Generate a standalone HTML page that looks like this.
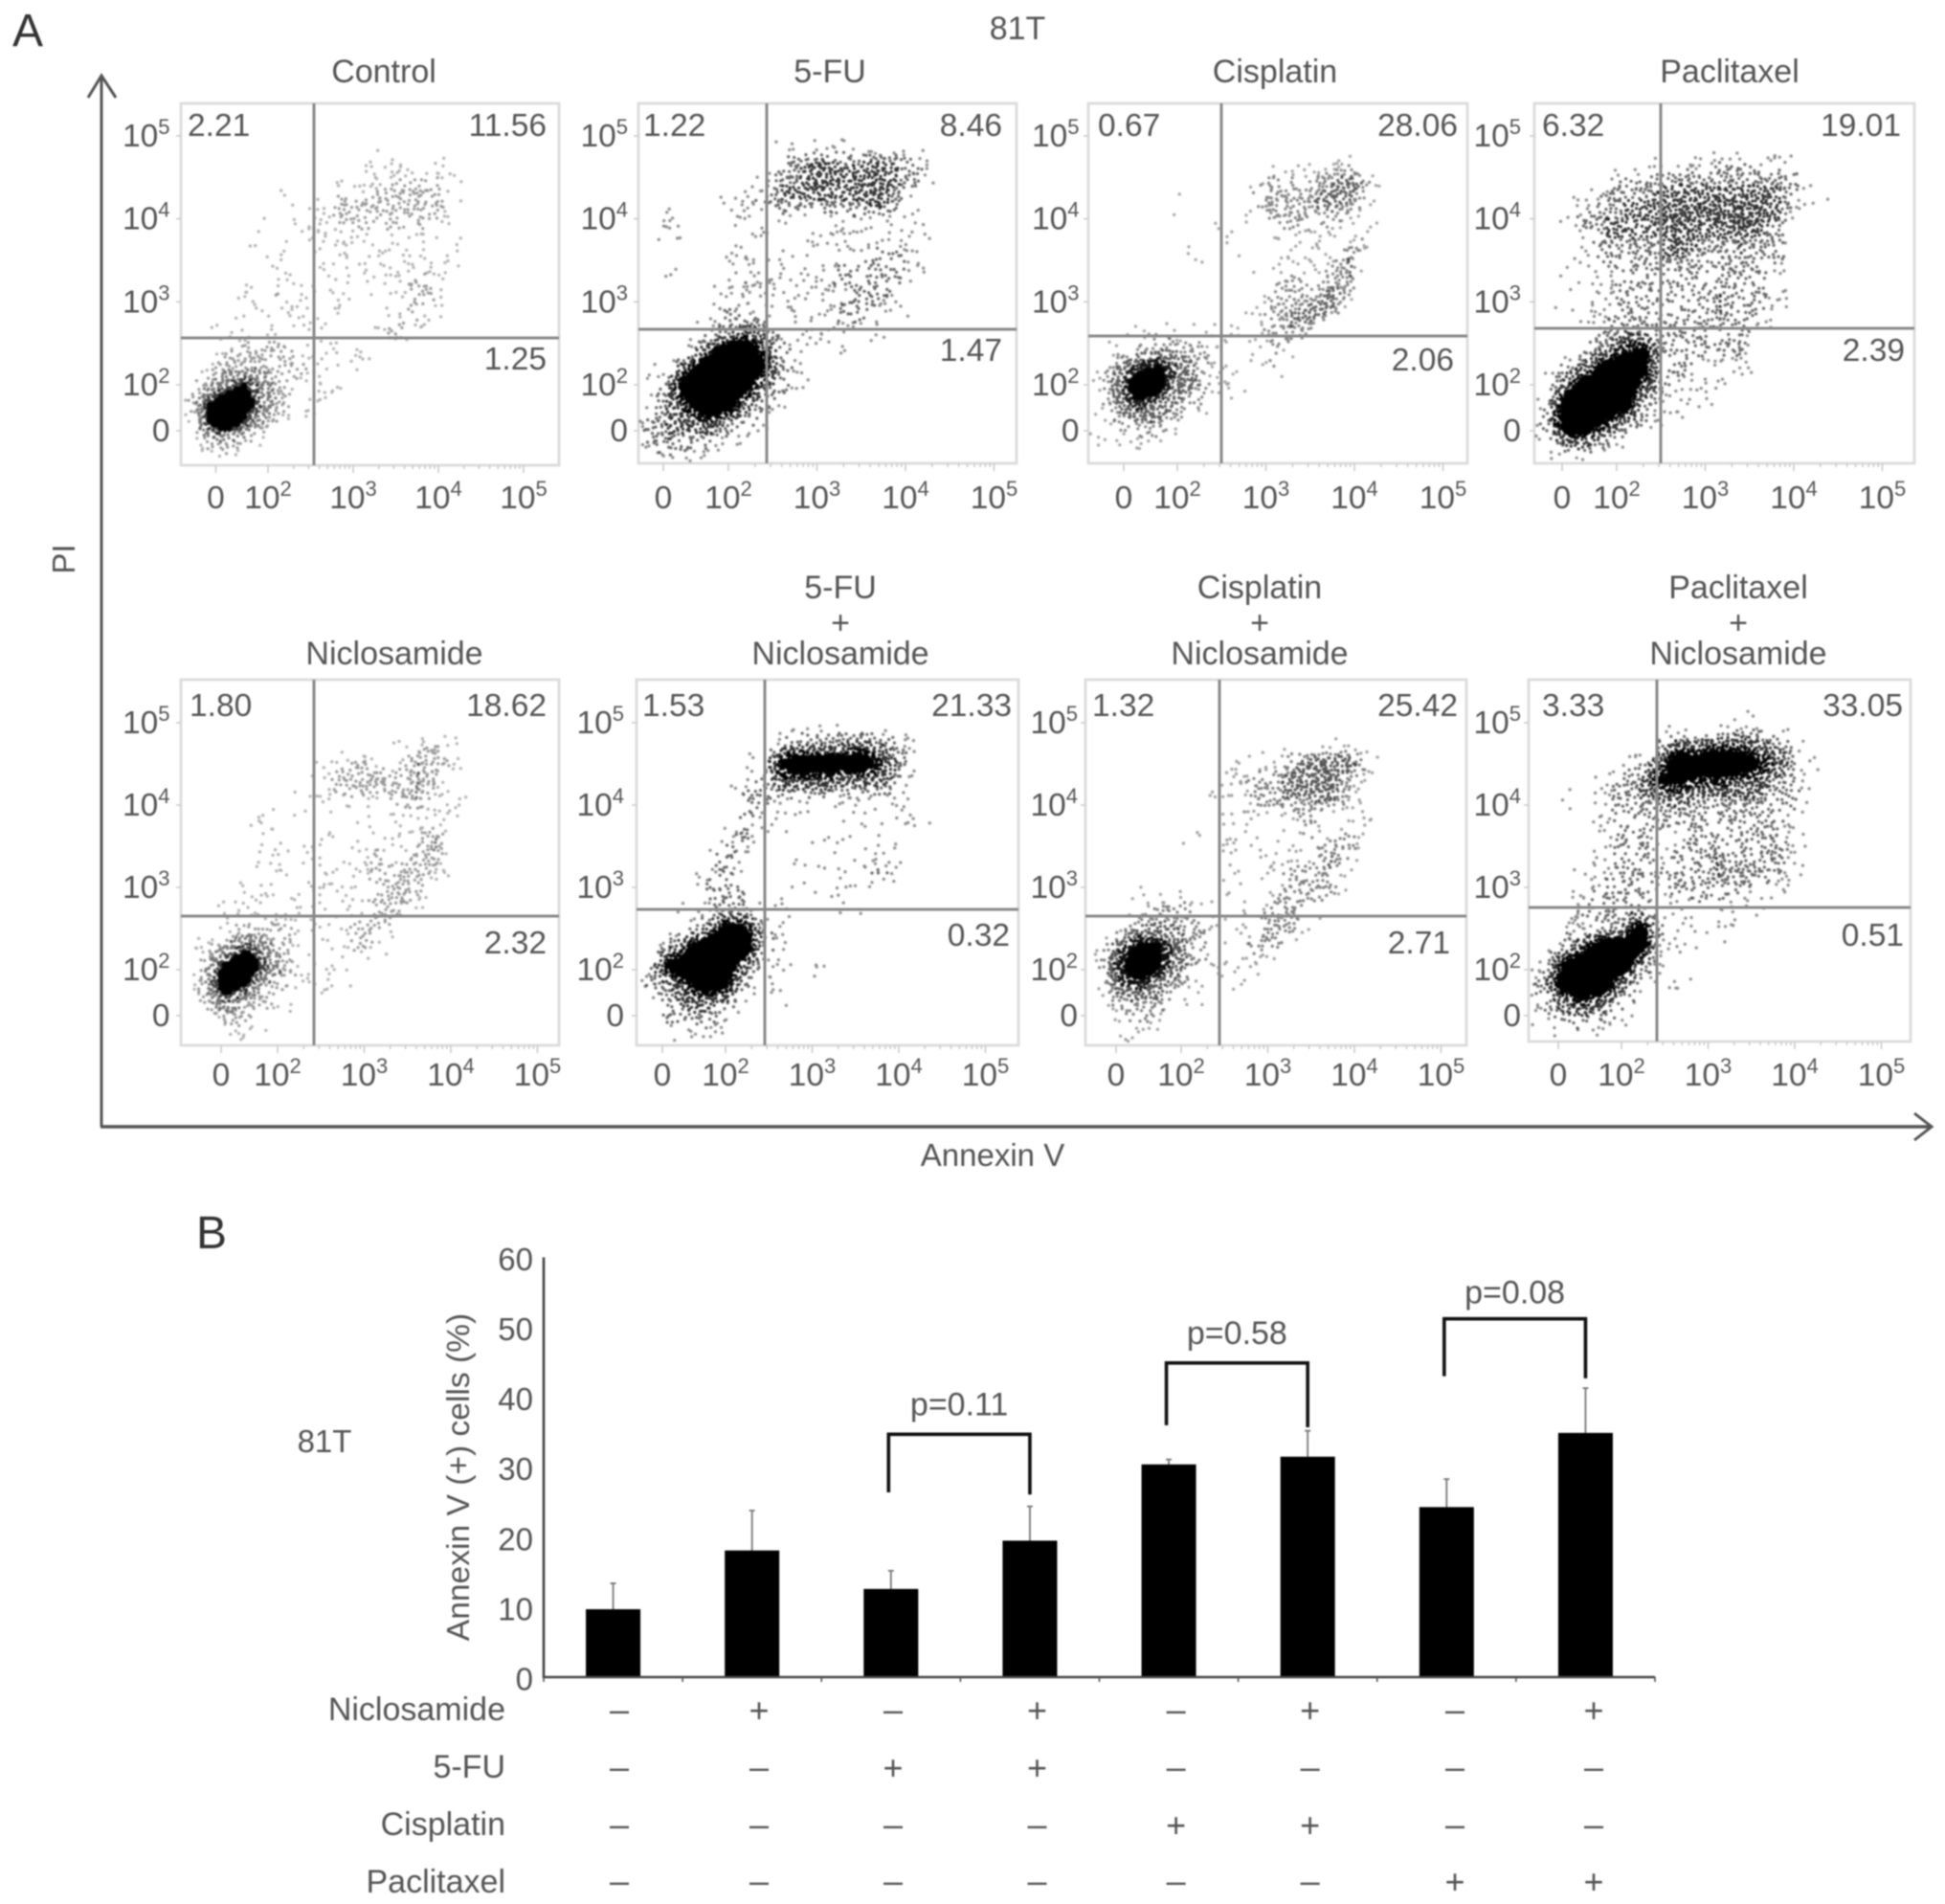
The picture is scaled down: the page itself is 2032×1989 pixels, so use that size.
<!DOCTYPE html>
<html lang="en">
<head>
<meta charset="utf-8">
<title>81T apoptosis flow cytometry and Annexin V bar chart</title>
<style>
html,body{margin:0;padding:0;background:#fff;width:2032px;height:1989px;overflow:hidden}
svg{display:block;filter:blur(.7px)}
text{font-family:"Liberation Sans",sans-serif;fill:#555}
.t{font-size:34px}
.m{text-anchor:middle}
.e{text-anchor:end}
.q{font-size:33.5px}
</style>
</head>
<body>
<svg id="figure" xmlns="http://www.w3.org/2000/svg" width="2032" height="1989" viewBox="0 0 2032 1989">
<g id="flow-layer"></g>
<g id="bar-layer"></g>

<text x="13" y="48" style="font-size:48px;fill:#333">A</text>
<text x="205" y="1304" style="font-size:48px;fill:#333">B</text>
<text class="t m" x="1063" y="41">81T</text>

<text class="t m" x="401" y="86">Control</text>
<text class="t m" x="867" y="86">5-FU</text>
<text class="t m" x="1332" y="86">Cisplatin</text>
<text class="t m" x="1807" y="86">Paclitaxel</text>

<text class="t m" x="412" y="694">Niclosamide</text>
<text class="t m" x="878" y="625">5-FU</text>
<text class="t m" x="878" y="662">+</text>
<text class="t m" x="878" y="694">Niclosamide</text>
<text class="t m" x="1316" y="625">Cisplatin</text>
<text class="t m" x="1316" y="662">+</text>
<text class="t m" x="1316" y="694">Niclosamide</text>
<text class="t m" x="1816" y="625">Paclitaxel</text>
<text class="t m" x="1816" y="662">+</text>
<text class="t m" x="1816" y="694">Niclosamide</text>

<g>
<text class="q" x="196" y="142">2.21</text>
<text class="q e" x="571" y="142">11.56</text>
<text class="q e" x="571" y="386">1.25</text>
<text class="q" x="672" y="142">1.22</text>
<text class="q e" x="1047" y="142">8.46</text>
<text class="q e" x="1047" y="377">1.47</text>
<text class="q" x="1147" y="142">0.67</text>
<text class="q e" x="1523" y="142">28.06</text>
<text class="q e" x="1519" y="387">2.06</text>
<text class="q" x="1611" y="142">6.32</text>
<text class="q e" x="1986" y="142">19.01</text>
<text class="q e" x="1990" y="377">2.39</text>
<text class="q" x="198" y="748">1.80</text>
<text class="q e" x="571" y="748">18.62</text>
<text class="q e" x="571" y="996">2.32</text>
<text class="q" x="671" y="748">1.53</text>
<text class="q e" x="1057" y="748">21.33</text>
<text class="q e" x="1055" y="988">0.32</text>
<text class="q" x="1141" y="748">1.32</text>
<text class="q e" x="1523" y="748">25.42</text>
<text class="q e" x="1515" y="996">2.71</text>
<text class="q" x="1611" y="748">3.33</text>
<text class="q e" x="1988" y="748">33.05</text>
<text class="q e" x="1989" y="988">0.51</text>
</g>

<g fill="none" stroke="#555" stroke-width="3">
<path d="M106 1177V79"/><path d="M92 102L106 79L121 102"/>
</g>
<g fill="none" stroke="#555" stroke-width="3.5">
<path d="M105 1177H2016"/><path d="M2000 1163L2018 1177L2000 1191" stroke-width="3"/>
</g>
<text class="m" style="font-size:33px" x="1037" y="1218">Annexin V</text>
<text class="m" style="font-size:33px" transform="translate(78 584) rotate(-90)" x="0" y="0">PI</text>

<text class="m" style="font-size:33px" x="339" y="1517">81T</text>
<text class="m" style="font-size:33.6px" transform="translate(490 1543) rotate(-90)" x="0" y="0">Annexin V (+) cells (%)</text>

<text class="t e" x="528" y="1797">Niclosamide</text>
<text class="t e" x="528" y="1857">5-FU</text>
<text class="t e" x="528" y="1917">Cisplatin</text>
<text class="t e" x="528" y="1977">Paclitaxel</text>
</svg>

<script>
// ---- Bar chart data ----
const barValues = [9.7, 18.1, 12.6, 19.5, 30.4, 31.5, 24.3, 34.9];
const barErrorTops = [13.4, 23.8, 15.2, 24.4, 31.1, 35.2, 28.3, 41.3];
const barAxisTicks = [0, 10, 20, 30, 40, 50, 60];
const niclosamideSigns = ['-', '+', '-', '+', '-', '+', '-', '+'];
const fluorouracilSigns = ['-', '-', '+', '+', '-', '-', '-', '-'];
const cisplatinSigns = ['-', '-', '-', '-', '+', '+', '-', '-'];
const paclitaxelSigns = ['-', '-', '-', '-', '-', '-', '+', '+'];
const bracketFrom = [2, 4, 6];
const bracketTo = [3, 5, 7];
const bracketLevels = [34.7, 44.9, 51.2];
const bracketLeftEnds = [26.4, 36.0, 43.0];
const bracketRightEnds = [26.1, 35.7, 42.7];
const bracketLabels = ['p=0.11', 'p=0.58', 'p=0.08'];

// ---- Flow cytometry tick labels (exponents of ten; "0" is plain) ----
const flowTickExponents = ['0', '2', '3', '4', '5'];

// ---- Event density: 20 rows x 16 columns, 0 = empty, 9 = solid ----
const densityControl = [
"0000000000000000","0000000000000000","0000000000000000","0000000000110100",
"0000000011122210","0000010122323210","0000101122222200","0001101111111110",
"0000010111111110","0000010111112100","0001121111012200","0001111010112100",
"0011111100121000","0012221111100000","0133322111100000","0357421110000000",
"1698521100000000","0696310000000000","0232000000000000","0010000000000000"];
const densityFluorouracil = [
"0000000000000000","0000000000000000","0000000101110000","0000000234334321",
"0000001334344320","0000112333334200","0100111101111110","0100011011101110",
"0000110111112210","0100121111222210","0001111111122100","0000211111221100",
"0001243111111000","0014895211100000","0159997210100000","1399984210000000",
"1369942100000000","2345321000000000","2322110000000000","0111000000000000"];
const densityCisplatin = [
"0000000000000000","0000000000000000","0000000000000000","0000000001011100",
"0000000012223520","0000100023334310","0000001012222100","0000000101111120",
"0000010010111300","0000000001212300","0000000002224200","0000000012343000",
"0011011112320000","0123321002100000","1467531112000000","1598431100000000",
"1464320000000000","0233200000000000","1111000000000000","0000000000000000"];
const densityPaclitaxel = [
"0000000000000000","0000000000000000","0000000000000000","0000010112211100",
"0001223333333200","0112334444443110","0123334444543000","0013333433332000",
"0012223322322000","0111222222221000","0011222223221000","0111222223221000",
"0002322222210000","0023672222200000","1248972211100000","1599952111000000",
"2999821110000000","3996321000000000","2442100000000000","0110000000000000"];
const densityNiclosamide = [
"0000000000000000","0000000000000000","0000000000000000","0000000000011210",
"0000000112113310","0000000133323200","0000001112123110","0000110100111110",
"0000100101111300","0000111101212300","0001110111223100","0001111111232000",
"0011111111221000","0012221112210000","0136421112100000","0379631110000000",
"0397321110000000","0253210000000000","0022100000000000","0001000000000000"];
const densityFluorouracilNic = [
"0000000000000000","0000000000000000","0000000000100000","0000000233343200",
"0000012798896310","0000012555444210","0000022111111100","0000021110110110",
"0001120001011010","0001210010111100","0001200001112110","0002220111100000",
"0011220100110000","0013872100000000","0269992100000000","1799941111000000",
"2369721000000000","0244310100000000","0222100000000000","0011000000000000"];
const densityCisplatinNic = [
"0000000000000000","0000000000000000","0000000000000000","0000000000101100",
"0000000111244410","0000000122444200","0000001023334100","0000000110120110",
"0000010110121200","0000000101113200","0000000101223000","0010100101232000",
"0012221112310000","0134321113200000","1577421122000000","2697421110000000",
"1564210100000000","1233110000000000","0121000000000000","0110000000000000"];
const densityPaclitaxelNic = [
"0000000000000000","0000000000000000","0000000000110000","0000002445543100",
"0000124989975210","0001237766553200","0101233433332200","0001222222222100",
"0001221122222100","0001221223223100","0011222223332100","0012221222211000",
"0022221011110000","0112382111100000","0259981110000000","1799931000000000",
"3899410100000000","2464210000000000","1222100000000000","0010000000000000"];

// ---- Panel geometry (style/layout, not data) ----
const panelLayout = [
 {key:'control',density:densityControl,ink:.8,left:189,right:584,top:108,bottom:486,gx:328,gy:353,ox:185,oy:105,xz:225.5,x2:280,xd:89,yz:461,y2:413,yd:-86.7,yr:177.5},
 {key:'fluorouracil',density:densityFluorouracil,ink:1.2,left:667,right:1062,top:108,bottom:484,gx:801,gy:344,ox:668,oy:105,xz:693,x2:761,xd:92.5,yz:461,y2:413,yd:-86.7,yr:656},
 {key:'cisplatin',density:densityCisplatin,ink:.95,left:1137,right:1533,top:108,bottom:484,gx:1276,gy:351,ox:1140,oy:105,xz:1174,x2:1230,xd:92.5,yz:461,y2:413,yd:-86.7,yr:1127.5},
 {key:'paclitaxel',density:densityPaclitaxel,ink:1.2,left:1603,right:2000,top:108,bottom:484,gx:1735,gy:343,ox:1608,oy:105,xz:1632,x2:1689,xd:92.5,yz:461,y2:413,yd:-86.7,yr:1589},
 {key:'niclosamide',density:densityNiclosamide,ink:.8,left:189,right:584,top:710,bottom:1092,gx:328,gy:957,ox:185,oy:710,xz:231,x2:290,xd:90.5,yz:1072,y2:1024,yd:-86,yr:177.5},
 {key:'fluorouracil-niclosamide',density:densityFluorouracilNic,ink:1.2,left:665,right:1064,top:710,bottom:1092,gx:799,gy:950,ox:668,oy:710,xz:692,x2:758,xd:90.5,yz:1072,y2:1024,yd:-86,yr:652},
 {key:'cisplatin-niclosamide',density:densityCisplatinNic,ink:1,left:1134,right:1532,top:710,bottom:1092,gx:1274,gy:957,ox:1140,oy:710,xz:1166,x2:1234,xd:90.5,yz:1072,y2:1024,yd:-86,yr:1126},
 {key:'paclitaxel-niclosamide',density:densityPaclitaxelNic,ink:1.2,left:1597,right:1996,top:710,bottom:1088,gx:1731,gy:948,ox:1604,oy:710,xz:1628,x2:1694,xd:90.5,yz:1072,y2:1024,yd:-86,yr:1589}
];
// dots per square pixel at each density level
const dotRatePerLevel = [0, .009, .028, .055, .085, .11, .14, .19, .3, .7];
const bandAlpha = [.4, .52, .68, .95];
const CELL_W = 20, CELL_H = 19.25, STEP = 4, SOLID_LEVEL = 6.6, MIN_LEVEL = .25;
// small horizontal nudges of the +/- columns relative to the bars (layout only)
const signNudge = [6.4, 7.3, 2.2, 7.6, 7.6, 2.5, 8.7, 8.6];

const NS = 'http://www.w3.org/2000/svg';
function make(tag, parent, geometry, text) {
  const node = document.createElementNS(NS, tag);
  for (const k in geometry) node.setAttribute(k, geometry[k]);
  if (text !== undefined) node.textContent = text;
  parent.appendChild(node);
  return node;
}
// deterministic scatter texture: where a dot sits inside its sub-cell
function scatter(a, b, c) {
  let h = Math.imul(a, 73856093) ^ Math.imul(b, 19349663) ^ Math.imul(c, 83492791);
  h = Math.imul(h ^ (h >>> 13), 1274126177);
  h ^= h >>> 16;
  return (h >>> 0) / 4294967296;
}
function gridLevel(grid, c, r) {
  if (r < 0 || r >= grid.length || c < 0 || c >= grid[0].length) return 0;
  return +grid[r][c];
}
// bilinear density at a pixel, using the array values
function densityAt(p, x, y) {
  const u = (x - p.ox) / CELL_W - .5, v = (y - p.oy) / CELL_H - .5;
  const c = Math.floor(u), r = Math.floor(v), fu = u - c, fv = v - r;
  return gridLevel(p.density, c, r) * (1 - fu) * (1 - fv) + gridLevel(p.density, c + 1, r) * fu * (1 - fv) +
         gridLevel(p.density, c, r + 1) * (1 - fu) * fv + gridLevel(p.density, c + 1, r + 1) * fu * fv;
}
function rateAt(level) {
  const i = Math.min(8, Math.floor(level)), f = level - i;
  return dotRatePerLevel[i] * (1 - f) + dotRatePerLevel[i + 1] * f;
}

// Flow axis functions
function flowX(p, i) { return i === 0 ? p.xz : p.x2 + (i - 1) * p.xd; }
function flowY(p, i) { return i === 0 ? p.yz : p.y2 + (i - 1) * p.yd; }

const flowLayer = document.getElementById('flow-layer');
panelLayout.forEach(function (p, pi) {
  const g = make('g', flowLayer, {});
  
  

  const frame = make('rect', g, {x: p.left, y: p.top, width: p.right - p.left, height: p.bottom - p.top, fill: '#fff', stroke: '#ddd', 'stroke-width': 3});
  
  

  // minor / major ticks on the frame
  let tickPath = '';
  for (let i = 0; i < flowTickExponents.length; i++) {
    const tx = flowX(p, i);
    tickPath += 'M' + tx + ' ' + p.bottom + 'v8';
    if (i > 0 && i < flowTickExponents.length - 1) {
      for (let k = 2; k < 10; k++) tickPath += 'M' + (tx + Math.log10(k) * p.xd) + ' ' + p.bottom + 'v4';
    }
    const ty = flowY(p, i) - 11;
    tickPath += 'M' + p.left + ' ' + ty + 'h-5';
  }
  const ticks = make('path', g, {d: tickPath, stroke: '#ccc', 'stroke-width': 1.6, fill: 'none'});
  
  

  // stipple driven by the density array
  const dotGroup = make('g', g, {style: 'filter:blur(.6px)'});
  
  
  const bands = ['', '', '', ''];
  let solid = '';
  for (let j = -4; j < 105; j++) {
    for (let i = -4; i < 90; i++) {
      const sx = p.ox + i * STEP, sy = p.oy + j * STEP;
      const level = densityAt(p, sx + STEP / 2, sy + STEP / 2);
      if (level < MIN_LEVEL) continue;
      if (level >= SOLID_LEVEL) {
        solid += 'M' + (sx + 2) + ' ' + (sy + 2) + 'h.01';
        continue;
      }
      const expected = rateAt(level) * STEP * STEP;
      const n = Math.floor(expected + scatter(i, j, pi + 1));
      const band = level < 1.5 ? 0 : level < 3 ? 1 : level < 5 ? 2 : 3;
      for (let k = 0; k < n; k++) {
        const px = sx + scatter(i, j, 31 * k + 7 + pi) * STEP;
        const py = sy + scatter(j, i, 17 * k + 11 + pi) * STEP;
        if (px < p.left + 2 || px > p.right - 2 || py < p.top + 2 || py > p.bottom - 2) continue;
        bands[band] += 'M' + px.toFixed(1) + ' ' + py.toFixed(1) + 'h.01';
      }
    }
  }
  bands.forEach(function (d, b) {
    const dots = make('path', dotGroup, {d: d, stroke: '#000', 'stroke-linecap': 'round', 'stroke-width': 3.2, fill: 'none', 'stroke-opacity': Math.min(1, bandAlpha[b] * p.ink)});
    
    
  });
  const coreDots = make('path', dotGroup, {d: solid, stroke: '#000', 'stroke-linecap': 'round', 'stroke-width': 7, fill: 'none'});
  
  

  // quadrant gates
  const gateV = make('line', g, {x1: p.gx, x2: p.gx, y1: p.top, y2: p.bottom, stroke: '#888', 'stroke-width': 3});
  
  
  const gateH = make('line', g, {x1: p.left, x2: p.right, y1: p.gy, y2: p.gy, stroke: '#888', 'stroke-width': 3});
  
  

  // tick labels
  flowTickExponents.forEach(function (exp, i) {
    const bx = p.top < 500 ? 531 : 1134;
    [['x', flowX(p, i), bx, 'middle'], ['y', p.yr, flowY(p, i), 'end']].forEach(function (t) {
      const label = make('text', g, {x: t[1], y: t[2], 'text-anchor': t[3], style: 'font-size:33.5px'});
      
      
      if (exp === '0') { label.textContent = '0'; return; }
      make('tspan', label, {}, '10');
      make('tspan', label, {dy: -13, style: 'font-size:22px'}, exp);
    });
  });
});

// ---- Bar chart ----
const barLayer = document.getElementById('bar-layer');
const PLOT_LEFT = 568, PLOT_RIGHT = 1729, PLOT_BASE = 1752, UNIT = 7.31;
const bandWidth = (PLOT_RIGHT - PLOT_LEFT) / barValues.length;
function valueY(v) { return PLOT_BASE - v * UNIT; }
function bandX(i) { return PLOT_LEFT + bandWidth * (i + 0.5); }

barValues.forEach(function (v, i) {
  const top = barErrorTops[i];
  const err = make('path', barLayer, {d: 'M' + bandX(i) + ' ' + valueY(v) + 'V' + valueY(top) + 'm-3 0h6', stroke: '#777', 'stroke-width': 1.8, fill: 'none'});
  
  
  const bar = make('rect', barLayer, {x: bandX(i) - 28.5, y: valueY(v), width: 57, height: PLOT_BASE - valueY(v), fill: '#000'});
  
  
});

const barAxisPath = 'M' + PLOT_LEFT + ' ' + valueY(60) + 'V' + PLOT_BASE + 'H' + PLOT_RIGHT;
const barAxis = make('path', barLayer, {d: barAxisPath, stroke: '#444', 'stroke-width': 2.6, fill: 'none'});


for (let i = 0; i <= barValues.length; i++) {
  const tick = make('line', barLayer, {x1: PLOT_LEFT + i * bandWidth, x2: PLOT_LEFT + i * bandWidth, y1: PLOT_BASE, y2: PLOT_BASE + 5, stroke: '#555', 'stroke-width': 1.6});
  
  
}
barAxisTicks.forEach(function (v) {
  const tl = make('text', barLayer, {x: 557, y: valueY(v) + 13.5, 'text-anchor': 'end', style: 'font-size:33px'}, String(v));
  
  
});

bracketLabels.forEach(function (lab, i) {
  const xa = bandX(bracketFrom[i]) - 2.5, xb = bandX(bracketTo[i]);
  const br = make('path', barLayer, {d: 'M' + xa + ' ' + valueY(bracketLeftEnds[i]) + 'V' + valueY(bracketLevels[i]) + 'H' + xb + 'V' + valueY(bracketRightEnds[i]), stroke: '#111', 'stroke-width': 3.6, fill: 'none'});
  
  
  const pt = make('text', barLayer, {x: (xa + xb) / 2, y: valueY(bracketLevels[i]) - (i === 2 ? 16 : 20), 'text-anchor': 'middle', style: 'font-size:34px'}, lab);
  
  
});

[[niclosamideSigns, 1798], [fluorouracilSigns, 1858], [cisplatinSigns, 1918], [paclitaxelSigns, 1977]].forEach(function (row) {
  row[0].forEach(function (s, i) {
    const sign = make('text', barLayer, {x: bandX(i) + signNudge[i], y: row[1] + (s === '+' ? 1 : 0), 'text-anchor': 'middle', style: 'font-size:36px'}, s === '+' ? '+' : '\u2013');
    
    
  });
});
</script>
</body>
</html>
